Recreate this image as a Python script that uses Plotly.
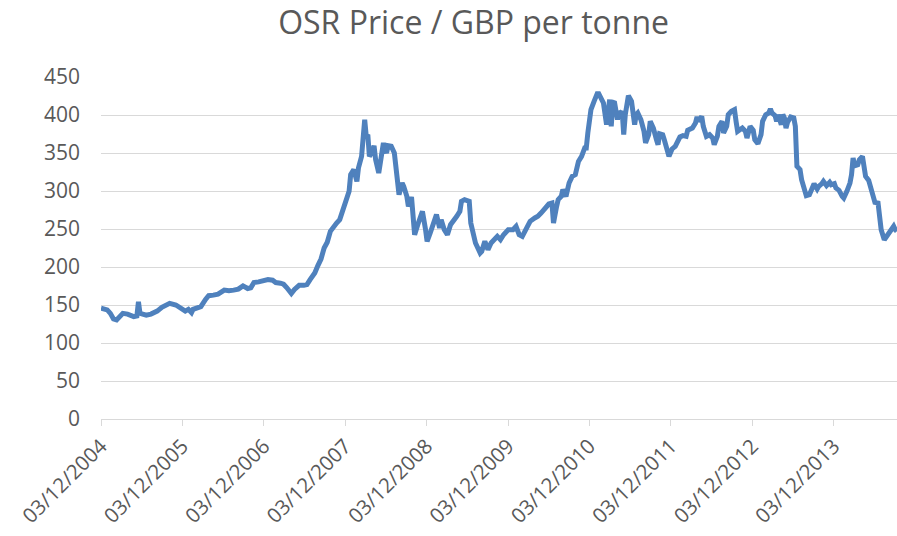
import pandas as pd
import plotly.graph_objects as go

# Weekly observations: weeks elapsed since the first quote (03/12/2004)
start_date = "2004-12-03"
weeks = [
    0, 4, 6, 8, 10, 12, 14, 17, 19, 21, 23, 24, 25, 27, 29, 32, 34, 36, 39, 42,
    44, 48, 51, 54, 56, 58, 59, 61, 64, 67, 69, 72, 75, 79, 82, 85, 88, 91, 94, 96,
    98, 101, 104, 107, 110, 112, 115, 117, 119, 121, 122, 124, 127, 130, 132, 134, 137, 139, 141, 143,
    145, 147, 149, 151, 153, 155, 157, 159, 160, 162, 164, 165, 167, 168, 169, 170, 171, 172, 174, 175,
    176, 178, 179, 181, 182, 183, 184, 186, 188, 190, 191, 193, 194, 196, 197, 199, 200, 201, 203, 205,
    206, 208, 209, 211, 213, 215, 217, 218, 220, 222, 224, 226, 228, 230, 231, 233, 236, 237, 238, 240,
    243, 244, 246, 248, 250, 254, 256, 258, 261, 264, 266, 268, 270, 273, 275, 278, 280, 282, 285, 287,
    289, 290, 292, 293, 295, 296, 298, 300, 302, 304, 306, 308, 310, 311, 312, 314, 316, 318, 319, 321,
    322, 324, 325, 326, 327, 328, 329, 331, 332, 333, 334, 335, 336, 337, 338, 340, 341, 342, 343, 344,
    346, 348, 349, 351, 352, 354, 356, 357, 358, 360, 361, 364, 366, 368, 371, 373, 375, 376, 379, 381,
    382, 383, 385, 386, 388, 390, 392, 393, 395, 396, 398, 399, 401, 402, 404, 406, 407, 408, 411, 413,
    414, 416, 418, 419, 421, 423, 424, 426, 428, 429, 430, 432, 433, 434, 436, 437, 438, 439, 440, 442,
    444, 445, 446, 448, 449, 451, 452, 454, 455, 457, 459, 460, 462, 463, 465, 467, 468, 470, 471, 473,
    475, 476, 478, 480, 481, 482, 483, 485, 486, 488, 489, 490, 492, 493, 495, 496, 498, 499, 500, 502,
    504, 506, 508, 509, 510,
]
prices = [
    145.7, 143.5, 139.0, 131.7, 130.4, 134.8, 139.0, 138.0, 135.7, 134.8, 135.7, 154.3, 139.0, 137.0, 136.5, 138.0, 140.0, 142.0, 147.0, 151.3,
    152.2, 150.0, 145.7, 142.0, 144.3, 140.0, 144.3, 145.7, 147.8, 157.4, 162.2, 163.0, 164.3, 169.6, 168.7, 169.6, 170.9, 175.2, 171.7, 172.6,
    179.6, 180.4, 182.6, 183.5, 182.6, 179.6, 178.7, 177.4, 173.0, 166.0, 165.2, 170.4, 175.9, 175.9, 176.8, 183.3, 192.1, 201.8, 210.5, 225.0,
    232.5, 247.0, 251.3, 257.9, 262.3, 275.4, 284.2, 299.6, 321.5, 328.1, 312.7, 330.3, 345.6, 380.7, 393.9, 371.9, 374.1, 345.6, 352.2, 359.6,
    341.2, 323.7, 341.2, 363.2, 354.4, 350.0, 359.6, 358.8, 350.0, 317.1, 295.2, 310.5, 306.1, 293.0, 279.8, 292.1, 271.0, 242.5, 255.7, 266.7,
    273.2, 249.1, 233.8, 244.7, 255.7, 268.9, 251.3, 262.3, 249.1, 242.5, 255.7, 260.1, 266.7, 273.2, 286.4, 288.6, 286.4, 257.9, 249.1, 231.6,
    218.4, 220.6, 233.8, 222.8, 231.6, 240.3, 236.0, 242.5, 249.1, 249.1, 253.5, 242.5, 240.3, 251.3, 260.1, 264.5, 266.7, 271.0, 277.6, 282.9,
    284.2, 257.9, 279.8, 288.6, 293.0, 301.8, 293.0, 310.5, 319.3, 321.5, 339.0, 345.6, 356.6, 356.6, 376.3, 407.0, 418.0, 428.1, 428.1, 421.1,
    415.8, 387.3, 411.4, 420.2, 385.1, 415.8, 418.0, 393.9, 404.8, 402.6, 404.8, 374.1, 400.4, 415.8, 425.4, 418.0, 400.4, 387.3, 400.4, 402.6,
    393.9, 378.5, 363.2, 374.1, 391.7, 382.9, 367.5, 361.0, 375.4, 374.1, 367.5, 345.6, 355.3, 358.8, 371.0, 372.8, 371.9, 379.8, 382.9, 389.5,
    397.4, 391.7, 398.2, 385.1, 371.9, 374.1, 369.7, 361.0, 371.9, 385.1, 391.7, 376.3, 385.1, 400.4, 404.8, 407.0, 391.7, 378.5, 382.9, 378.5,
    369.7, 385.1, 379.8, 367.5, 362.3, 374.1, 391.7, 400.4, 402.6, 407.9, 402.6, 399.1, 391.7, 400.4, 387.3, 400.4, 396.1, 382.9, 390.4, 397.4,
    396.1, 385.1, 332.5, 328.1, 315.0, 297.4, 293.9, 295.2, 301.8, 309.6, 302.6, 306.1, 309.6, 312.7, 307.0, 311.4, 308.3, 309.6, 303.9, 300.9,
    293.0, 290.8, 299.6, 310.5, 321.5, 343.4, 333.3, 334.6, 341.2, 345.6, 332.5, 319.3, 314.0, 306.1, 295.2, 285.1, 284.2, 262.3, 249.1, 235.9,
    242.5, 249.1, 253.5, 249.1, 246.9,
]
tick_dates = [
    "2004-12-03", "2005-12-03", "2006-12-03", "2007-12-03", "2008-12-03",
    "2009-12-03", "2010-12-03", "2011-12-03", "2012-12-03", "2013-12-03",
]
tick_labels = [
    "03/12/2004", "03/12/2005", "03/12/2006", "03/12/2007", "03/12/2008",
    "03/12/2009", "03/12/2010", "03/12/2011", "03/12/2012", "03/12/2013",
]
y_ticks = [0, 50, 100, 150, 200, 250, 300, 350, 400, 450]

dates = pd.Timestamp(start_date) + pd.to_timedelta([7 * w for w in weeks], unit="D")

TEXT = "#595959"
GRID = "#d9d9d9"
FONT = "Open Sans"

fig = go.Figure()
fig.add_trace(go.Scatter(
    x=dates, y=prices, mode="lines",
    line=dict(color="#4F81BD", width=5),
    showlegend=False, hoverinfo="x+y",
))

fig.update_layout(
    width=897, height=536,
    margin=dict(l=101, r=0, t=77, b=117, pad=0, autoexpand=False),
    paper_bgcolor="white", plot_bgcolor="white",
    font=dict(family=FONT, color=TEXT, size=21),
    title=dict(
        text="OSR Price / GBP per tonne",
        font=dict(family=FONT, size=32, color=TEXT),
        x=0.528, xanchor="center", xref="container",
        y=0.957, yanchor="middle", yref="container",
    ),
)
fig.update_xaxes(
    type="date", automargin=False,
    range=["2004-12-03", "2014-09-13"],
    tickmode="array", tickvals=tick_dates, ticktext=tick_labels,
    tickangle=-45,
    showgrid=False, zeroline=False,
    showline=True, linecolor=GRID, linewidth=1,
    ticks="outside", ticklen=6, tickcolor=GRID, tickwidth=1,
    tickfont=dict(family=FONT, size=20.5, color=TEXT),
)
fig.update_yaxes(
    range=[0, 450], automargin=False,
    tickmode="array", tickvals=y_ticks,
    showgrid=True, gridcolor=GRID, gridwidth=1,
    zeroline=False, showline=False, ticks="",
    ticklabelstandoff=20,
    tickfont=dict(family=FONT, size=21, color=TEXT),
)

fig.write_html(
    "out.html",
    config={"displayModeBar": False},
    post_script="document.body.style.margin='0';document.body.style.overflow='hidden';",
)
